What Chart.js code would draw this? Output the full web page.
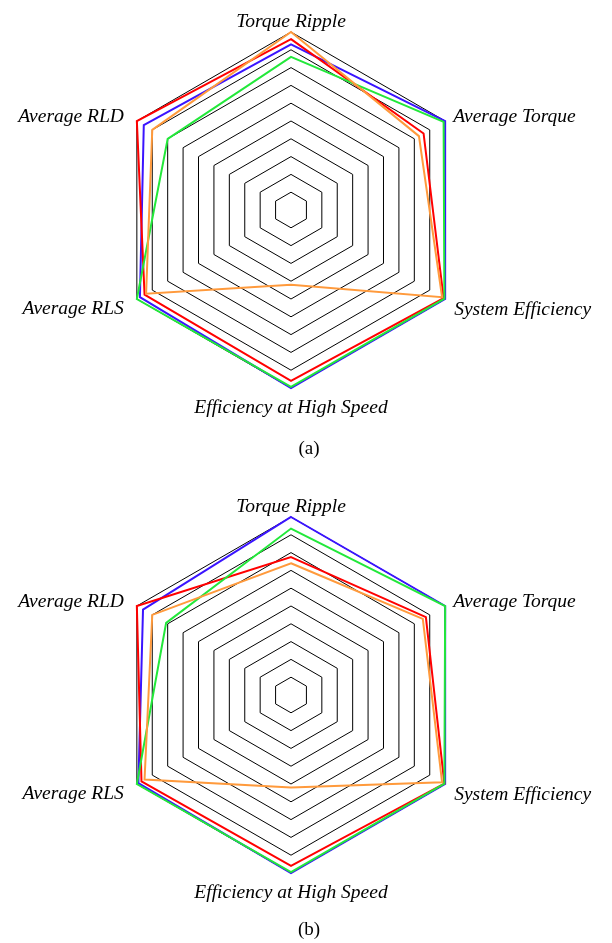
<!DOCTYPE html>
<html>
<head>
<meta charset="utf-8">
<script src="https://cdn.jsdelivr.net/npm/chart.js@4.4.1/dist/chart.umd.min.js"></script>
<style>
  html, body { margin: 0; padding: 0; background: #ffffff; overflow: hidden; }
  body { width: 612px; height: 943px; position: relative; }
  canvas { position: absolute; left: 0; }
  .caption {
    position: absolute; left: 0; width: 612px; text-align: center;
    font-family: "Liberation Serif", "Times New Roman", serif; font-size: 19px; color: #000;
    line-height: 19px;
  }
</style>
</head>
<body>
<canvas id="chartA" width="612" height="440" style="top:0px"></canvas>
<div class="caption" style="top:438px; left:3px">(a)</div>
<canvas id="chartB" width="612" height="440" style="top:485px"></canvas>
<div class="caption" style="top:919px; left:3px">(b)</div>

<script>
// Performance criteria, clockwise from the top
const criteria = ['Torque Ripple', 'Average Torque', 'System Efficiency',
                  'Efficiency at High Speed', 'Average RLS', 'Average RLD'];

// Scores on a 0–10 scale, case (a)
const blueA   = [9.3, 10.0, 10.0, 10.0, 9.8, 9.55];
const redA    = [9.6, 8.6, 9.9, 9.6, 9.5, 10.0];
const greenA  = [8.6, 9.9, 9.95, 9.93, 10.0, 8.0];
const orangeA = [10.0, 8.3, 9.8, 4.2, 9.4, 9.0];

// Scores on a 0–10 scale, case (b)
const blueB   = [10.0, 10.0, 10.0, 10.0, 9.9, 9.6];
const redB    = [7.75, 8.75, 9.95, 9.6, 9.7, 10.0];
const greenB  = [9.35, 10.0, 9.95, 9.95, 10.0, 8.1];
const orangeB = [7.4, 8.55, 9.8, 5.2, 9.5, 9.0];

const scaleMax = 10;
const scaleStep = 1;

const COLORS = {
  blue: '#3a14ff',
  red: '#ff0000',
  green: '#22e83a',
  orange: '#ff9a3c'
};

// Axis names drawn just outside each outer vertex
const axisLabelPlugin = {
  id: 'axisLabels',
  afterDraw(chart) {
    const s = chart.scales.r;
    const ctx = chart.ctx;
    ctx.save();
    ctx.font = 'italic 19.5px "Liberation Serif", "Times New Roman", serif';
    ctx.fillStyle = '#000';
    ctx.textBaseline = 'alphabetic';
    s._pointLabels.forEach((text, i) => {
      const p = s.getPointPosition(i, s.drawingArea);
      const dx = p.x - s.xCenter;
      const dy = p.y - s.yCenter;
      let x = p.x, y = p.y;
      if (Math.abs(dx) < 1) {
        ctx.textAlign = 'center';
        y = dy < 0 ? p.y - 5 : p.y + 25;
      } else if (dx > 0) {
        ctx.textAlign = 'left';
        x = p.x + (dy < 0 ? 8 : 9);
        y = dy < 0 ? p.y + 1 : p.y + 16;
      } else {
        ctx.textAlign = 'right';
        x = p.x - 13;
        y = dy < 0 ? p.y + 1 : p.y + 15;
      }
      ctx.fillText(text, x, y);
    });
    ctx.restore();
  }
};

function series(label, data, color) {
  return {
    label, data,
    borderColor: color,
    backgroundColor: 'rgba(0,0,0,0)',
    borderWidth: 2,
    fill: false,
    pointRadius: 0,
    pointHoverRadius: 0,
    borderJoinStyle: 'miter',
    tension: 0
  };
}

function makeRadar(id, blue, red, green, orange) {
  return new Chart(document.getElementById(id), {
    type: 'radar',
    data: {
      labels: criteria,
      datasets: [
        series('Design D', orange, COLORS.orange),
        series('Design C', green, COLORS.green),
        series('Design B', red, COLORS.red),
        series('Design A', blue, COLORS.blue)
      ]
    },
    options: {
      responsive: false,
      animation: false,
      devicePixelRatio: 1,
      layout: { padding: { left: 113, right: 143, top: 32, bottom: 52 } },
      plugins: { legend: { display: false }, tooltip: { enabled: false } },
      scales: {
        r: {
          min: 0,
          max: scaleMax,
          ticks: { display: false, stepSize: scaleStep },
          grid: { color: '#000', lineWidth: 1 },
          angleLines: { display: false },
          pointLabels: { display: false }
        }
      }
    },
    plugins: [axisLabelPlugin]
  });
}

makeRadar('chartA', blueA, redA, greenA, orangeA);
makeRadar('chartB', blueB, redB, greenB, orangeB);
</script>
</body>
</html>
